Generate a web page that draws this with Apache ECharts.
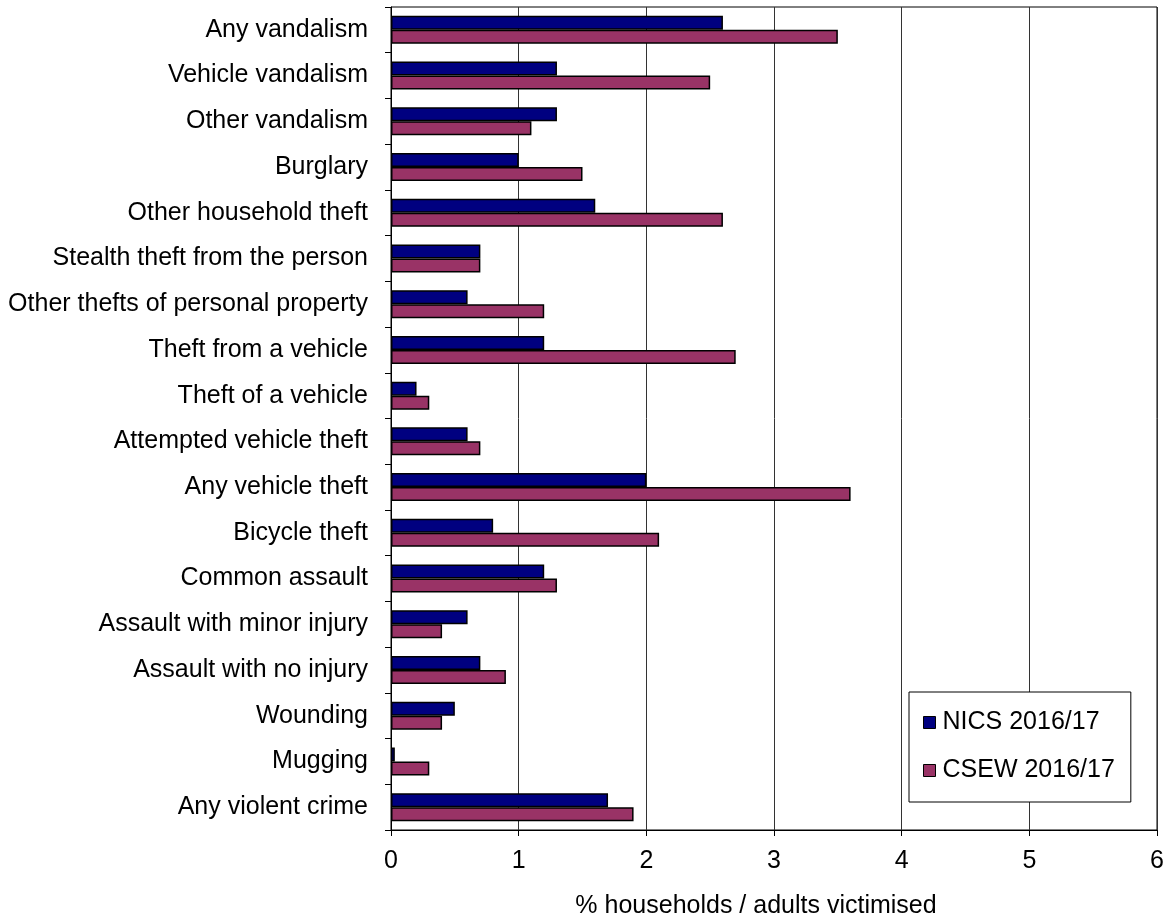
<!DOCTYPE html>
<html>
<head>
<meta charset="utf-8">
<script src="https://cdn.jsdelivr.net/npm/echarts@6/dist/echarts.min.js"></script>
<style>
html,body{margin:0;padding:0;background:#fff;}
#chart{width:1170px;height:918px;}
</style>
</head>
<body>
<div id="chart"></div>
<script>
const categories = [
  "Any vandalism","Vehicle vandalism","Other vandalism","Burglary","Other household theft",
  "Stealth theft from the person","Other thefts of personal property","Theft from a vehicle",
  "Theft of a vehicle","Attempted vehicle theft","Any vehicle theft","Bicycle theft",
  "Common assault","Assault with minor injury","Assault with no injury","Wounding","Mugging",
  "Any violent crime"
];
const nics = [2.6,1.3,1.3,1.0,1.6,0.7,0.6,1.2,0.2,0.6,2.0,0.8,1.2,0.6,0.7,0.5,0.03,1.7];
const csew = [3.5,2.5,1.1,1.5,2.6,0.7,1.2,2.7,0.3,0.7,3.6,2.1,1.3,0.4,0.9,0.4,0.3,1.9];
const xTicks = [0,1,2,3,4,5,6];
const seriesNames = ["NICS 2016/17","CSEW 2016/17"];
const colors = ["#000080","#993366"];
const axisTitle = "% households / adults victimised";

const FONT = "'Liberation Sans', Arial, sans-serif";
const FS = 25;
const chart = echarts.init(document.getElementById('chart'), null, {renderer:'canvas'});
chart.setOption({
  animation: false,
  backgroundColor: '#fff',
  textStyle: {fontFamily: FONT},
  grid: {left: 391, right: 13, top: 7, bottom: 88, show: true, borderColor: '#000', borderWidth: 1,
         backgroundColor: 'transparent', containLabel: false, outerBoundsMode: 'none'},
  legend: {
    data: seriesNames,
    orient: 'vertical',
    left: 909, top: 692,
    padding: [18, 16, 19, 14],
    itemGap: 23,
    itemWidth: 12, itemHeight: 12,
    icon: 'rect',
    backgroundColor: '#fff',
    borderColor: '#000', borderWidth: 1,
    textStyle: {fontFamily: FONT, fontSize: FS, color: '#000', padding: [0,0,0,2]},
    itemStyle: {borderColor: '#000', borderWidth: 1}
  },
  xAxis: {
    type: 'value', min: xTicks[0], max: xTicks[xTicks.length-1], interval: 1,
    name: axisTitle, nameLocation: 'middle', nameGap: 64,
    nameTextStyle: {fontFamily: FONT, fontSize: FS, color: '#000', padding: [0, 36, 0, 0]},
    axisLine: {show: true, lineStyle: {color: '#000', width: 1}},
    axisTick: {show: true, length: 6, lineStyle: {color: '#000'}},
    axisLabel: {fontFamily: FONT, fontSize: FS, color: '#000', margin: 19},
    splitLine: {show: true, lineStyle: {color: '#333', width: 1}}
  },
  yAxis: {
    type: 'category', data: categories, inverse: true,
    axisLine: {show: true, lineStyle: {color: '#000', width: 1}},
    axisTick: {show: true, length: 6, lineStyle: {color: '#000'}},
    axisLabel: {fontFamily: FONT, fontSize: FS, color: '#000', margin: 23},
    splitLine: {show: false}
  },
  series: [
    {name: seriesNames[0], type: 'bar', data: nics, barWidth: 14, barGap: '0%',
     itemStyle: {color: colors[0], borderColor: '#000', borderWidth: 1.5}},
    {name: seriesNames[1], type: 'bar', data: csew, barWidth: 14, barGap: '0%',
     itemStyle: {color: colors[1], borderColor: '#000', borderWidth: 1.5}}
  ]
});
</script>
</body>
</html>
